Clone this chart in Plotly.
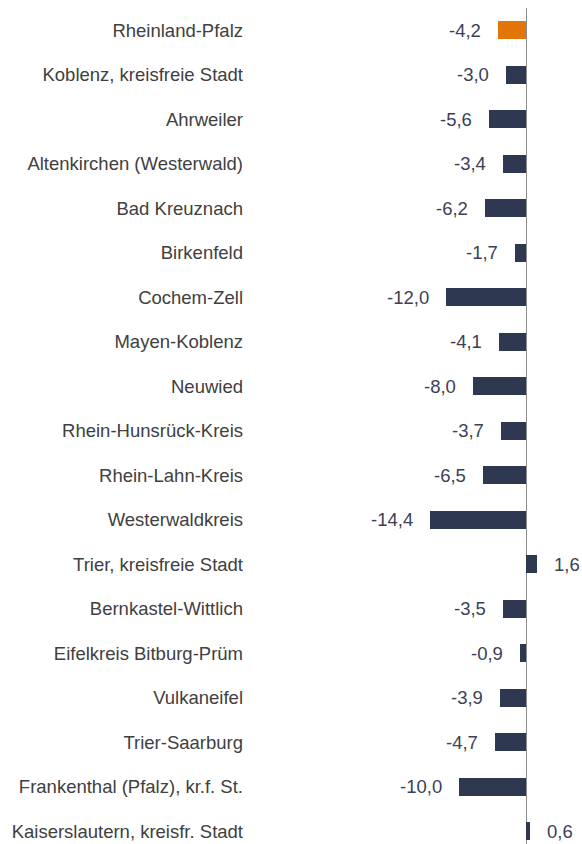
import plotly.graph_objects as go

# Districts and change values (percent)
regions = [
    "Rheinland-Pfalz",
    "Koblenz, kreisfreie Stadt",
    "Ahrweiler",
    "Altenkirchen (Westerwald)",
    "Bad Kreuznach",
    "Birkenfeld",
    "Cochem-Zell",
    "Mayen-Koblenz",
    "Neuwied",
    "Rhein-Hunsrück-Kreis",
    "Rhein-Lahn-Kreis",
    "Westerwaldkreis",
    "Trier, kreisfreie Stadt",
    "Bernkastel-Wittlich",
    "Eifelkreis Bitburg-Prüm",
    "Vulkaneifel",
    "Trier-Saarburg",
    "Frankenthal (Pfalz), kr.f. St.",
    "Kaiserslautern, kreisfr. Stadt",
]
values = [-4.2, -3.0, -5.6, -3.4, -6.2, -1.7, -12.0, -4.1, -8.0, -3.7,
          -6.5, -14.4, 1.6, -3.5, -0.9, -3.9, -4.7, -10.0, 0.6]

STATE_COLOR = "#E37508"
DISTRICT_COLOR = "#2E3850"
colors = [STATE_COLOR if r == "Rheinland-Pfalz" else DISTRICT_COLOR for r in regions]

FONT = "Liberation Sans"
FS = 18.5

fig = go.Figure(go.Bar(
    x=values,
    y=regions,
    orientation="h",
    marker=dict(color=colors, line=dict(width=0)),
    width=0.40,
    hoverinfo="skip",
))

# Value labels beside each bar, German decimal comma
for r, v in zip(regions, values):
    fig.add_annotation(
        x=v, y=r,
        text=f"{v:.1f}".replace(".", ","),
        showarrow=False,
        xanchor="right" if v < 0 else "left",
        xshift=-15 if v < 0 else 15,
        font=dict(family=FONT, size=FS, color="#3A4156"),
    )

fig.update_layout(
    width=582, height=844,
    margin=dict(l=250, r=0, t=8, b=0),
    paper_bgcolor="white",
    plot_bgcolor="white",
    showlegend=False,
    bargap=0,
    font=dict(family=FONT, size=FS, color="#404040"),
    xaxis=dict(
        range=[-41.4, 8.37],
        showgrid=False,
        showticklabels=False,
        ticks="",
        zeroline=True,
        zerolinecolor="#8C8C8C",
        zerolinewidth=1,
        showline=False,
        fixedrange=True,
    ),
    yaxis=dict(
        type="category",
        categoryorder="array",
        categoryarray=regions,
        range=[18.29, -0.5],
        showgrid=False,
        zeroline=False,
        showline=False,
        ticks="",
        ticklabelstandoff=6,
        tickfont=dict(family=FONT, size=FS, color="#404040"),
        fixedrange=True,
    ),
)

fig.write_html("out.html")
